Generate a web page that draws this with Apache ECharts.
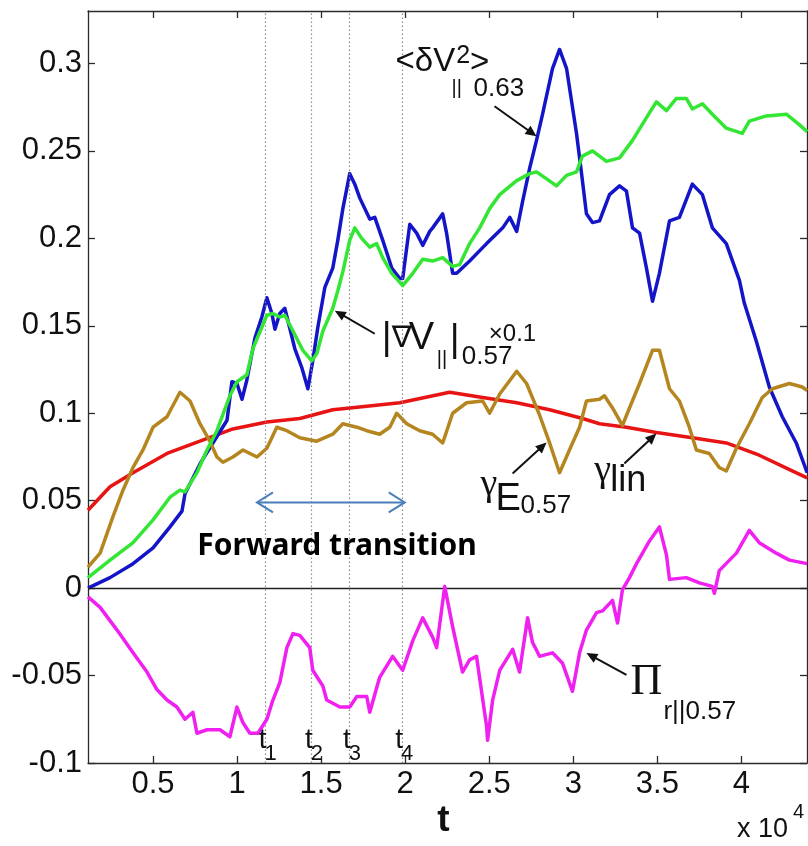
<!DOCTYPE html>
<html>
<head>
<meta charset="utf-8">
<script src="https://cdn.jsdelivr.net/npm/echarts@6/dist/echarts.min.js"></script>
<style>
  html, body { margin: 0; padding: 0; background: #fff; }
  #chart { width: 808px; height: 846px; }
</style>
</head>
<body>
<div id="chart"></div>
<script>
// Axis ticks (t in units of 1e4)
const xTicks = [0.5, 1, 1.5, 2, 2.5, 3, 3.5, 4];
const yTicks = [-0.1, -0.05, 0, 0.05, 0.1, 0.15, 0.2, 0.25, 0.3];

// Transition instants t1..t4
const tMarks = [1.169, 1.444, 1.670, 1.981];
const tNames = ['1', '2', '3', '4'];

// <dV_par^2> at r = 0.63
const dV2 = [[0.113,0.000],[0.244,0.006],[0.381,0.014],[0.500,0.023],[0.601,0.035],[0.672,0.044],[0.690,0.054],[0.779,0.071],[0.856,0.083],[0.940,0.096],[0.969,0.118],[0.999,0.117],[1.029,0.108],[1.058,0.119],[1.106,0.143],[1.147,0.155],[1.177,0.166],[1.207,0.157],[1.225,0.148],[1.254,0.157],[1.284,0.160],[1.302,0.153],[1.343,0.137],[1.385,0.126],[1.421,0.114],[1.450,0.130],[1.480,0.149],[1.522,0.172],[1.569,0.183],[1.599,0.199],[1.629,0.217],[1.670,0.237],[1.700,0.231],[1.730,0.223],[1.789,0.211],[1.819,0.212],[1.866,0.199],[1.920,0.183],[1.968,0.177],[1.985,0.177],[2.027,0.208],[2.068,0.203],[2.104,0.196],[2.146,0.204],[2.163,0.206],[2.223,0.214],[2.246,0.203],[2.282,0.180],[2.306,0.180],[2.383,0.187],[2.484,0.197],[2.580,0.206],[2.622,0.212],[2.663,0.204],[2.698,0.221],[2.740,0.240],[2.781,0.256],[2.817,0.271],[2.876,0.297],[2.918,0.308],[2.960,0.297],[3.019,0.260],[3.049,0.237],[3.078,0.214],[3.114,0.209],[3.156,0.210],[3.215,0.225],[3.275,0.230],[3.316,0.227],[3.352,0.206],[3.394,0.203],[3.435,0.183],[3.471,0.164],[3.512,0.180],[3.572,0.210],[3.631,0.212],[3.708,0.231],[3.768,0.225],[3.827,0.206],[3.910,0.197],[3.988,0.176],[4.017,0.163],[4.089,0.141],[4.166,0.115],[4.243,0.098],[4.326,0.083],[4.391,0.066]];

// |grad V_par| at r = 0.57, scaled by 0.1
const gradV = [[0.113,0.006],[0.244,0.016],[0.381,0.026],[0.500,0.039],[0.601,0.052],[0.660,0.056],[0.690,0.055],[0.761,0.066],[0.821,0.079],[0.880,0.090],[0.957,0.110],[0.999,0.118],[1.058,0.122],[1.094,0.137],[1.177,0.156],[1.213,0.157],[1.254,0.155],[1.284,0.156],[1.332,0.147],[1.391,0.136],[1.444,0.130],[1.474,0.134],[1.510,0.147],[1.569,0.160],[1.599,0.170],[1.629,0.181],[1.670,0.199],[1.700,0.206],[1.741,0.200],[1.789,0.195],[1.830,0.197],[1.866,0.189],[1.920,0.180],[1.985,0.173],[2.045,0.180],[2.104,0.188],[2.163,0.187],[2.223,0.189],[2.282,0.184],[2.324,0.185],[2.383,0.197],[2.443,0.206],[2.502,0.217],[2.562,0.225],[2.663,0.233],[2.740,0.237],[2.781,0.238],[2.841,0.234],[2.900,0.230],[2.960,0.236],[3.019,0.238],[3.054,0.247],[3.114,0.250],[3.197,0.244],[3.275,0.246],[3.352,0.256],[3.435,0.269],[3.494,0.278],[3.554,0.273],[3.613,0.280],[3.672,0.280],[3.708,0.274],[3.768,0.277],[3.827,0.271],[3.910,0.263],[4.005,0.260],[4.047,0.267],[4.148,0.270],[4.267,0.271],[4.344,0.265],[4.391,0.261]];

// Linear growth rate gamma_lin
const gammaLin = [[0.113,0.0445],[0.244,0.058],[0.381,0.066],[0.583,0.077],[0.779,0.084],[0.975,0.091],[1.177,0.095],[1.373,0.097],[1.569,0.102],[1.771,0.104],[1.968,0.106],[2.264,0.112],[2.461,0.109],[2.663,0.106],[2.859,0.102],[3.055,0.097],[3.156,0.094],[3.316,0.092],[3.494,0.089],[3.708,0.086],[3.910,0.083],[4.106,0.076],[4.302,0.067],[4.391,0.063]];

// Effective growth rate gamma_E at r = 0.57
const gammaE = [[0.113,0.012],[0.185,0.020],[0.262,0.041],[0.321,0.056],[0.381,0.069],[0.440,0.079],[0.500,0.092],[0.583,0.098],[0.660,0.112],[0.720,0.107],[0.779,0.094],[0.838,0.084],[0.880,0.075],[0.916,0.072],[0.975,0.075],[1.035,0.079],[1.118,0.075],[1.177,0.080],[1.236,0.092],[1.296,0.090],[1.373,0.086],[1.474,0.084],[1.569,0.088],[1.629,0.094],[1.712,0.092],[1.771,0.090],[1.848,0.088],[1.908,0.092],[1.949,0.100],[2.009,0.094],[2.086,0.090],[2.163,0.088],[2.223,0.083],[2.282,0.100],[2.365,0.106],[2.461,0.107],[2.502,0.100],[2.562,0.111],[2.663,0.124],[2.722,0.117],[2.799,0.099],[2.859,0.083],[2.918,0.066],[2.977,0.079],[3.037,0.092],[3.078,0.107],[3.156,0.108],[3.185,0.110],[3.233,0.103],[3.292,0.093],[3.334,0.103],[3.394,0.117],[3.471,0.136],[3.512,0.136],[3.572,0.114],[3.631,0.107],[3.690,0.092],[3.732,0.079],[3.809,0.077],[3.868,0.069],[3.910,0.067],[3.970,0.080],[4.047,0.094],[4.124,0.109],[4.184,0.114],[4.285,0.117],[4.362,0.115],[4.391,0.113]];

// Reynolds power Pi_r|| at r = 0.57
const piR = [[0.113,-0.005],[0.185,-0.011],[0.286,-0.024],[0.381,-0.037],[0.464,-0.048],[0.523,-0.058],[0.583,-0.064],[0.642,-0.068],[0.690,-0.075],[0.737,-0.071],[0.761,-0.083],[0.821,-0.081],[0.898,-0.081],[0.957,-0.085],[0.999,-0.068],[1.035,-0.077],[1.076,-0.083],[1.124,-0.083],[1.177,-0.075],[1.213,-0.064],[1.254,-0.054],[1.296,-0.034],[1.332,-0.026],[1.373,-0.027],[1.432,-0.034],[1.450,-0.047],[1.510,-0.056],[1.533,-0.064],[1.611,-0.068],[1.670,-0.068],[1.712,-0.062],[1.771,-0.062],[1.789,-0.071],[1.848,-0.051],[1.925,-0.039],[1.985,-0.047],[2.045,-0.030],[2.104,-0.017],[2.163,-0.028],[2.187,-0.034],[2.235,0.001],[2.282,-0.022],[2.341,-0.048],[2.383,-0.041],[2.424,-0.039],[2.484,-0.079],[2.490,-0.087],[2.520,-0.064],[2.562,-0.047],[2.639,-0.035],[2.680,-0.048],[2.728,-0.017],[2.757,-0.031],[2.799,-0.039],[2.876,-0.037],[2.936,-0.043],[2.995,-0.059],[3.037,-0.037],[3.078,-0.024],[3.138,-0.014],[3.174,-0.013],[3.233,-0.007],[3.263,-0.020],[3.292,-0.001],[3.334,0.006],[3.376,0.014],[3.453,0.027],[3.512,0.035],[3.554,0.019],[3.572,0.005],[3.672,0.006],[3.750,0.003],[3.827,0.001],[3.839,-0.003],[3.868,0.010],[3.970,0.020],[4.047,0.033],[4.106,0.026],[4.207,0.020],[4.285,0.016],[4.391,0.014]];

const X_MIN = 0.113, X_MAX = 4.39, Y_MIN = -0.1, Y_MAX = 0.33;
const SANS = '"Liberation Sans", Arial, Helvetica, sans-serif';
const SERIF = '"Liberation Serif", "Times New Roman", serif';
const AXIS_COLOR = '#2a2a2a';
const TICK_FONT = 31;
const fmt = v => String(Math.round(v * 1000) / 1000);

const chart = echarts.init(document.getElementById('chart'), null, { renderer: 'canvas' });

function frameAxis(base, extra) {
  return Object.assign({
    type: 'value',
    axisLine: { show: true, onZero: false, lineStyle: { color: AXIS_COLOR, width: 1.3 } },
    splitLine: { show: false }
  }, base, extra);
}

function tickStyle(values) {
  return { show: true, inside: true, length: 7, customValues: values, lineStyle: { color: AXIS_COLOR, width: 1.3 } };
}

function lineSeries(name, data, color, z) {
  return {
    name, type: 'line', data, z,
    showSymbol: false, symbol: 'none', smooth: false,
    lineStyle: { color, width: 3.5, join: 'round' },
    emphasis: { disabled: true },
    animation: false
  };
}

const option = {
  animation: false,
  backgroundColor: '#ffffff',
  grid: { left: 88, right: 1, top: 11, bottom: 83, containLabel: false },
  xAxis: [
    frameAxis({ min: X_MIN, max: X_MAX, position: 'bottom' }, {
      axisTick: tickStyle(xTicks),
      axisLabel: { show: true, customValues: xTicks, formatter: fmt, fontSize: TICK_FONT, color: '#111', fontFamily: SANS, margin: 6 }
    }),
    frameAxis({ min: X_MIN, max: X_MAX, position: 'top' }, {
      axisTick: tickStyle(xTicks),
      axisLabel: { show: false }
    })
  ],
  yAxis: [
    frameAxis({ min: Y_MIN, max: Y_MAX, position: 'left' }, {
      axisTick: tickStyle(yTicks),
      axisLabel: { show: true, customValues: yTicks, formatter: fmt, fontSize: TICK_FONT, color: '#111', fontFamily: SANS, margin: 6 }
    }),
    frameAxis({ min: Y_MIN, max: Y_MAX, position: 'right' }, {
      axisTick: tickStyle(yTicks),
      axisLabel: { show: false }
    })
  ],
  series: [
    Object.assign(lineSeries('gamma_lin', gammaLin, '#e81414', 2), {
      markLine: {
        silent: true, symbol: 'none', animation: false,
        label: { show: false },
        data: [{ yAxis: 0, lineStyle: { color: '#222', width: 1.3, type: 'solid' } }]
          .concat(tMarks.map(t => ({ xAxis: t, lineStyle: { color: '#8a8a8a', width: 1.2, type: [1.5, 2.5] } })))
      }
    }),
    lineSeries('dV2', dV2, '#1414c8', 3),
    lineSeries('gamma_E', gammaE, '#b5861f', 4),
    lineSeries('gradV', gradV, '#33e633', 5),
    lineSeries('Pi_r', piR, '#f020f0', 6)
  ]
};

chart.setOption(option);

// ---- annotations ----
const px = (x, y) => chart.convertToPixel({ xAxisIndex: 0, yAxisIndex: 0 }, [x, y]);
const mctx = document.createElement('canvas').getContext('2d');
function textWidth(s, size, family, weight) {
  mctx.font = (weight || 'normal') + ' ' + size + 'px ' + family;
  return mctx.measureText(s).width;
}

function txt(x, y, s, size, family, opts) {
  opts = opts || {};
  return {
    type: 'text', x, y, z: 100, silent: true,
    style: {
      text: s, fontSize: size, fontFamily: family || SANS, fontWeight: opts.weight || 'normal',
      fill: opts.fill || '#111', align: opts.align || 'left', verticalAlign: 'middle'
    }
  };
}

function arrow(from, to, color, width, headLen, headHalf) {
  const dx = to[0] - from[0], dy = to[1] - from[1];
  const len = Math.hypot(dx, dy), ux = dx / len, uy = dy / len;
  const bx = to[0] - ux * headLen, by = to[1] - uy * headLen;
  return [
    { type: 'line', z: 100, silent: true, shape: { x1: from[0], y1: from[1], x2: bx + ux * 2, y2: by + uy * 2 }, style: { stroke: color, lineWidth: width } },
    { type: 'polygon', z: 100, silent: true, shape: { points: [to, [bx - uy * headHalf, by + ux * headHalf], [bx + uy * headHalf, by - ux * headHalf]] }, style: { fill: color } }
  ];
}

// Label anchors: arrow tip on the curve (data units); text runs placed in pixels
// relative to the tip. A run whose dx is a string follows the previous run.
const notes = [
  { tip: [2.781, 0.2584], tail: [-42, -30], parts: [
    [-141, -74, '<\u03b4V', 33, SANS],
    ['+1', -80, '2', 25, SANS],
    ['+0', -73, '>', 33, SANS],
    [-85, -48, '||', 20, SANS],
    [-63, -47, '0.63', 26, SANS]
  ]},
  { tip: [1.581, 0.1586], tail: [40, 23], parts: [
    [47, 28, '|', 38, SANS],
    [57, 28, '\u2207', 30, '"DejaVu Sans", sans-serif'],
    [74, 28, 'V', 38, SANS],
    [102, 49, '||', 20, SANS],
    [115, 30, '|', 38, SANS],
    [127, 46, '0.57', 26, SANS],
    [154, 24, '\u00d70.1', 24, SANS]
  ]},
  { tip: [2.841, 0.0833], tail: [-34, 31], parts: [
    [-66, 43, '\u03b3', 38, SERIF],
    [-51, 57, 'E', 38, SANS],
    [-26, 63, '0.57', 26, SANS]
  ]},
  { tip: [3.494, 0.0884], tail: [-32, 30], parts: [
    [-62, 37, '\u03b3', 38, SERIF],
    [-46, 48, 'lin', 36, SANS]
  ]},
  { tip: [3.078, -0.0371], tail: [40, 22], parts: [
    [44, 29, '\u03a0', 44, SERIF],
    [77, 59, 'r||0.57', 26, SANS]
  ]}
];

const g = [];
notes.forEach(n => {
  const p = px(n.tip[0], n.tip[1]);
  g.push(...arrow([p[0] + n.tail[0], p[1] + n.tail[1]], p, '#111', 2, 11, 5));
  let cursor = p[0];
  n.parts.forEach(([dx, dy, s, size, fam]) => {
    const x = typeof dx === 'string' ? cursor + parseFloat(dx) : p[0] + dx;
    g.push(txt(x, p[1] + dy, s, size, fam));
    cursor = x + textWidth(s, size, fam);
  });
});

// t1..t4 labels at the foot of the dotted lines
tMarks.forEach((t, i) => {
  const p = px(t, Y_MIN);
  g.push(txt(p[0] + 1, p[1] - 23, 't', 28, SANS, { align: 'right' }));
  g.push(txt(p[0] - 1, p[1] - 9, tNames[i], 22, SANS));
});

// forward-transition span
const fa = px(1.118, 0.049), fb = px(1.997, 0.049);
const spanColor = '#4a7ebb';
g.push({ type: 'line', z: 100, silent: true, shape: { x1: fa[0], y1: fa[1], x2: fb[0], y2: fb[1] }, style: { stroke: spanColor, lineWidth: 2 } });
g.push({ type: 'polyline', z: 100, silent: true, shape: { points: [[fa[0] + 16, fa[1] - 10], fa, [fa[0] + 16, fa[1] + 10]] }, style: { stroke: spanColor, lineWidth: 2, fill: null } });
g.push({ type: 'polyline', z: 100, silent: true, shape: { points: [[fb[0] - 16, fb[1] - 10], fb, [fb[0] - 16, fb[1] + 10]] }, style: { stroke: spanColor, lineWidth: 2, fill: null } });
const fc = px(1.594, 0.024);
g.push(txt(fc[0], fc[1], 'Forward transition', 30, '"Noto Sans", sans-serif', { weight: 'bold', fill: '#000', align: 'center' }));

// axis title and exponent
const xc = px((X_MIN + X_MAX) / 2, Y_MIN);
g.push(txt(xc[0] - 4, xc[1] + 58, 't', 37, SANS, { weight: 'bold', align: 'center' }));
const xr = px(X_MAX, Y_MIN);
g.push(txt(xr[0] - 70, xr[1] + 67, 'x 10', 27, SANS));
g.push(txt(xr[0] - 14, xr[1] + 49, '4', 20, SANS));

chart.setOption({ graphic: { elements: g } });
</script>
</body>
</html>
